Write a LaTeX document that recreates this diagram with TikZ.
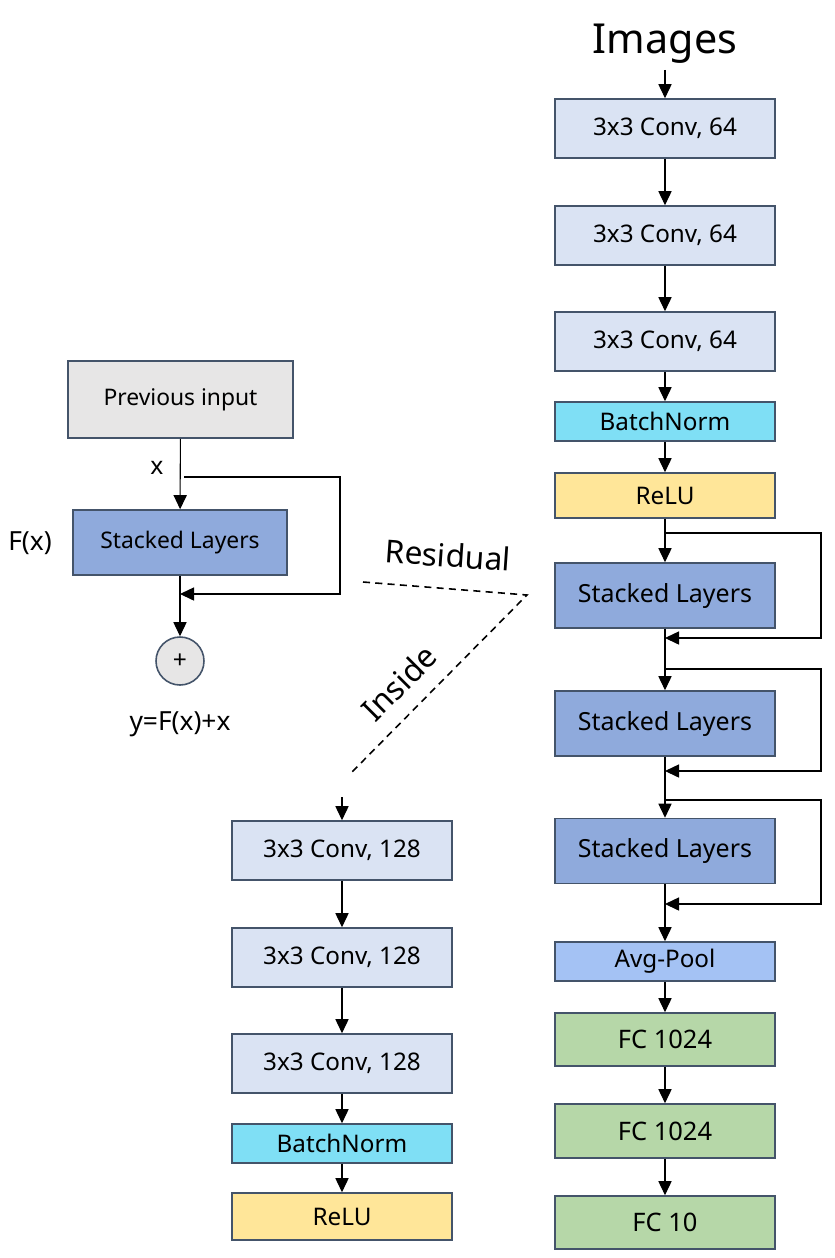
\documentclass[tikz,border=0pt]{standalone}
\usepackage{fontspec}
\setmainfont{Noto Sans}
\usetikzlibrary{arrows.meta}
\definecolor{edgegray}{HTML}{44546A}
\definecolor{convfill}{HTML}{DAE3F3}
\definecolor{bnfill}{HTML}{7FDFF5}
\definecolor{relufill}{HTML}{FFE699}
\definecolor{stackfill}{HTML}{8FAADC}
\definecolor{poolfill}{HTML}{A4C2F4}
\definecolor{fcfill}{HTML}{B6D7A8}
\definecolor{prevfill}{HTML}{E7E6E6}
\newcommand{\fs}[1]{\fontsize{#1}{#1}\selectfont}
\begin{document}
\begin{tikzpicture}[x=0.2mm, y=-0.2mm,
  layer/.style={draw=edgegray, line width=0.9pt, minimum width=4.4cm, font=\fs{13.8}},
  arr/.style={-{Triangle[width=7.5pt,length=8pt]}, line width=0.6pt},
  dashline/.style={dashed, dash pattern=on 4pt off 3pt, line width=0.9pt},
]
  \useasboundingbox (0,0) rectangle (835,1258);

  % main network
  \node[font=\fs{23.5}] (img) at (665,44) {Images};
  \node[layer, fill=convfill, minimum height=1.18cm] (conv1) at (665,128.5) {3x3 Conv, 64};
  \node[layer, fill=convfill, minimum height=1.18cm] (conv2) at (665,235.5) {3x3 Conv, 64};
  \node[layer, fill=convfill, minimum height=1.18cm] (conv3) at (665,341.5) {3x3 Conv, 64};
  \node[layer, fill=bnfill, minimum height=0.78cm] (bn) at (665,421.5) {BatchNorm};
  \node[layer, fill=relufill, minimum height=0.9cm] (relu) at (665,495.5) {ReLU};
  \node[layer, fill=stackfill, minimum height=1.3cm, font=\fs{14.2}] (st1) at (665,595.5) {Stacked Layers};
  \node[layer, fill=stackfill, minimum height=1.3cm, font=\fs{14.2}] (st2) at (665,723.5) {Stacked Layers};
  \node[layer, fill=stackfill, minimum height=1.3cm, font=\fs{14.2}] (st3) at (665,851) {Stacked Layers};
  \node[layer, fill=poolfill, minimum height=0.78cm] (pool) at (665,961.5) {Avg-Pool};
  \node[layer, fill=fcfill, minimum height=1.06cm, font=\fs{14.5}] (fc1) at (665,1039.5) {FC 1024};
  \node[layer, fill=fcfill, minimum height=1.08cm, font=\fs{14.5}] (fc2) at (665,1131) {FC 1024};
  \node[layer, fill=fcfill, minimum height=1.06cm, font=\fs{14.5}] (fc3) at (665,1222.5) {FC 10};

  \draw[arr] (img.south) -- (conv1);
  \foreach \a/\b in {conv1/conv2, conv2/conv3, conv3/bn, bn/relu, relu/st1,
                     st1/st2, st2/st3, st3/pool, pool/fc1, fc1/fc2, fc2/fc3}
    \draw[arr] (\a) -- (\b);

  % shortcuts
  \foreach \i/\ya/\yb in {1/533/638, 2/669/771, 3/800/904} {
    \coordinate (sk\i a) at (665,\ya);
    \coordinate (sk\i b) at (665,\yb);
    \draw[arr] (sk\i a) -- ++(156,0) |- (sk\i b);
  }

  % residual block
  \node[layer, fill=prevfill, minimum width=4.5cm, minimum height=1.54cm, font=\fs{13}] (prev) at (180.5,399.5) {Previous input};
  \node[layer, fill=stackfill, minimum width=4.28cm, minimum height=1.3cm, font=\fs{13}] (stk) at (180,542.5) {Stacked Layers};
  \node[circle, draw=edgegray, line width=0.9pt, fill=prevfill, minimum size=0.96cm, inner sep=0pt, font=\fs{14}] (plus) at (180,661) {+};
  \node[font=\fs{14}] (xlab) at (157,468) {x};
  \node[font=\fs{15}] (flab) at (30,543) {F(x)};
  \node[font=\fs{15}] (ylab) at (180,724) {y=F(x)+x};

  \draw[arr] (prev) -- (stk);
  \draw[arr] (stk) -- (plus);
  \coordinate (rsa) at (184,477);
  \coordinate (rsb) at (180,594);
  \draw[arr] (rsa) -- (340,477) |- (rsb);

  % zoom lines
  \coordinate (za) at (363,582);
  \coordinate (zb) at (527,595);
  \coordinate (zc) at (352,772);
  \draw[dashline] (za) -- (zb) -- (zc);
  \node[font=\fs{18}, rotate=-4] (res) at (448,555) {Residual};
  \node[font=\fs{18}, rotate=45] (ins) at (399,683) {Inside};

  % inside of stacked layers
  \coordinate (inl) at (342,797);
  \node[layer, fill=convfill, minimum height=1.18cm] (ca) at (342,850.5) {3x3 Conv, 128};
  \node[layer, fill=convfill, minimum height=1.18cm] (cb) at (342,957.5) {3x3 Conv, 128};
  \node[layer, fill=convfill, minimum height=1.18cm] (cc) at (342,1063.5) {3x3 Conv, 128};
  \node[layer, fill=bnfill, minimum height=0.78cm] (bnb) at (342,1143.5) {BatchNorm};
  \node[layer, fill=relufill, minimum height=0.94cm] (relub) at (342,1216.5) {ReLU};

  \draw[arr] (inl) -- (ca);
  \foreach \a/\b in {ca/cb, cb/cc, cc/bnb, bnb/relub}
    \draw[arr] (\a) -- (\b);
\end{tikzpicture}
\end{document}
